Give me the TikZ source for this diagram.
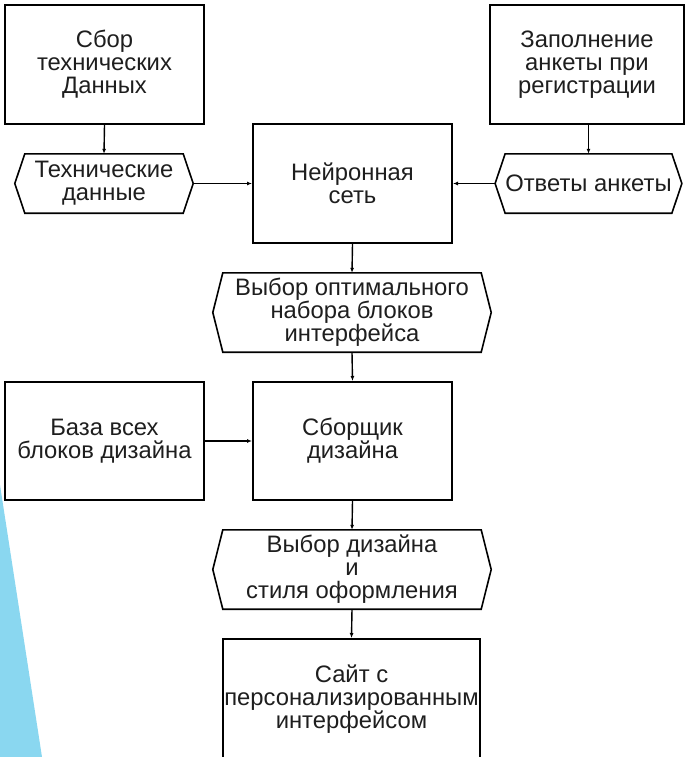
\documentclass[tikz,border=0pt]{standalone}
\usepackage{fontspec}
\setmainfont{Liberation Sans}
\usetikzlibrary{arrows.meta}
\definecolor{skyb}{RGB}{138,215,240}
\definecolor{txt}{RGB}{30,30,30}
\tikzset{
  box/.style={draw=black, line width=2pt, minimum width=#1, align=center, text=txt, inner sep=0pt,
    font=\fontsize{23.8}{23}\selectfont},
  hexnode/.style={draw=none, minimum width=#1, align=center, text=txt, inner sep=0pt,
    font=\fontsize{23.8}{23}\selectfont},
  hexline/.style={draw=black, line width=1.6pt, line join=miter},
  conn/.style={draw=black, line width=1.4pt, -{Latex[length=5pt,width=4pt]}}
}
\begin{document}
\begin{tikzpicture}[x=1pt,y=-1pt]
\useasboundingbox (0,0) rectangle (685,757);
\clip (0,0) rectangle (685,757);
\fill[skyb] (0,485) -- (42,757) -- (0,757) -- cycle;

\node[box=199pt, minimum height=119pt] (sbor) at (104.5,64.5) {Сбор\\технических\\Данных};
\node[box=194pt, minimum height=119pt] (zap) at (587,64.5) {Заполнение\\анкеты при\\регистрации};
\node[box=199pt, minimum height=119pt] (net) at (352.5,183.5) {Нейронная\\сеть};
\node[hexnode=158pt, minimum height=59pt] (th) at (104,183.5) {Технические\\данные};
\node[hexnode=159pt, minimum height=59pt] (oa) at (588.5,183.5) {Ответы анкеты};
\node[hexnode=258pt, minimum height=79pt] (vo) at (352,312.5) {Выбор оптимального\\набора блоков\\интерфейса};
\node[box=199pt, minimum height=118pt] (base) at (104.5,441) {База всех\\блоков дизайна};
\node[box=199pt, minimum height=118pt] (sb) at (352.5,441) {Сборщик\\дизайна};
\node[hexnode=258pt, minimum height=79pt] (vd) at (352,569.5) {Выбор дизайна\\и\\стиля оформления};
\node[box=257pt, minimum height=120pt] (site) at (351.5,699) {Сайт с\\персонализированным\\интерфейсом};

\foreach \n in {th,oa,vo,vd}{
  \draw[hexline] (\n.north west) -- (\n.north east) -- ([xshift=10pt]\n.east) -- (\n.south east)
    -- (\n.south west) -- ([xshift=-10pt]\n.west) -- cycle;
}

\draw[conn] (sbor.south) -- (th.north);
\draw[conn] (zap.south -| oa.north) -- (oa.north);
\draw[conn] ([xshift=10pt]th.east) -- (net.west |- th.east);
\draw[conn] ([xshift=-10pt]oa.west) -- (net.east |- oa.west);
\draw[conn] (net.south) -- (vo.north);
\draw[conn] (vo.south) -- (sb.north);
\draw[conn] (base.east) -- (sb.west);
\draw[conn] (sb.south) -- (vd.north);
\draw[conn] (vd.south) -- (site.north);
\end{tikzpicture}
\end{document}
